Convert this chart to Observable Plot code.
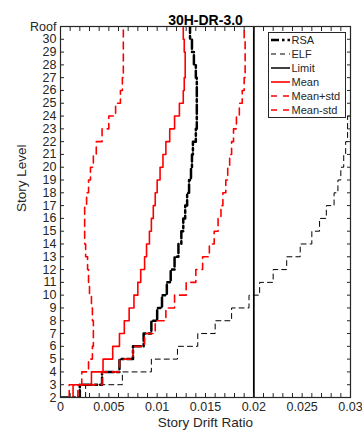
<!DOCTYPE html>
<html><head><meta charset="utf-8">
<script src="https://cdn.jsdelivr.net/npm/d3@7"></script>
<script src="https://cdn.jsdelivr.net/npm/@observablehq/plot@0.6"></script>
<style>body{margin:0;background:#fff}#chart{width:362px;height:434px}</style>
</head><body><div id="chart"></div>
<script>
// Story base level for each story (segment from level L to L+1); 31 = Roof
const levels = [2,3,4,5,6,7,8,9,10,11,12,13,14,15,16,17,18,19,20,21,22,23,24,25,26,27,28,29,30];
const rsa     = [0.0020,0.0043,0.0061,0.0075,0.0086,0.0094,0.0100,0.0105,0.0110,0.0114,0.0118,0.0122,0.0125,0.0127,0.0129,0.0131,0.0133,0.0135,0.0136,0.0137,0.0140,0.0141,0.0141,0.0141,0.0141,0.0140,0.0138,0.0136,0.0134];
const elf     = [0.0026,0.0064,0.0094,0.0121,0.0142,0.0160,0.0177,0.0195,0.0206,0.0220,0.0234,0.0248,0.0260,0.0268,0.0275,0.0283,0.0287,0.0290,0.0293,0.0295,0.0297,0.0297,0.0302,0.0304,0.0306,0.0307,0.0308,0.0309,0.0309];
const mean    = [0.0013,0.0032,0.0044,0.0054,0.0061,0.0066,0.0071,0.0076,0.0080,0.0083,0.0087,0.0089,0.0092,0.0094,0.0096,0.0098,0.0100,0.0103,0.0106,0.0109,0.0113,0.0118,0.0123,0.0127,0.0128,0.0129,0.0129,0.0128,0.0127];
const meanPlus  = [0.0018,0.0043,0.0061,0.0075,0.0087,0.0098,0.0109,0.0118,0.0130,0.0140,0.0147,0.0154,0.0159,0.0163,0.0166,0.0168,0.0171,0.0173,0.0175,0.0177,0.0179,0.0182,0.0185,0.0188,0.0190,0.0191,0.0191,0.0191,0.0190];
const meanMinus = [0.0009,0.0022,0.0029,0.0033,0.0034,0.0034,0.0033,0.0032,0.0030,0.0029,0.0028,0.0026,0.0025,0.0025,0.0025,0.0027,0.0029,0.0031,0.0034,0.0037,0.0043,0.0050,0.0057,0.0062,0.0064,0.0065,0.0065,0.0065,0.0065];
const limit = 0.02;
const title = "30H-DR-3.0";
const xLabel = "Story Drift Ratio";
const yLabel = "Story Level";
const xMajor = [0,0.005,0.01,0.015,0.02,0.025,0.03];
const xMinor = d3.range(0,31).map(i => i/1000);
const yTicks = d3.range(2,32);
const roofLevel = 31;
const seriesNames = ["RSA","ELF","Limit","Mean","Mean+std","Mean-std"];

function steps(vals, start) {
  const pts = start ? [{x:0, y:levels[0]}] : [];
  vals.forEach((v,i) => { pts.push({x:v, y:levels[i]}); pts.push({x:v, y:levels[i]+1}); });
  return pts;
}
const fmtX = d => d === 0 ? "0" : String(+d.toFixed(3));
const fmtY = d => d === roofLevel ? "Roof" : String(d);
const ink = "#262626";
const rsaDash = "9,3,2.5,3";
const stdDash = "7,5";

const plot = Plot.plot({
  width: 362, height: 434,
  marginTop: 26, marginBottom: 37, marginLeft: 60, marginRight: 12,
  style: {fontFamily: "'Liberation Sans', Arial, sans-serif", fontSize: "12px", color: ink, background: "#fff"},
  x: {domain: [0, 0.03], label: null},
  y: {domain: [2, 31], label: null},
  marks: [
    Plot.line(steps(rsa, true), {x:"x", y:"y", stroke:"#000", strokeWidth:2.5, strokeDasharray:rsaDash, clip:true}),
    Plot.line(steps(elf), {x:"x", y:"y", stroke:"#000", strokeWidth:1, strokeDasharray:"5,4", clip:true}),
    Plot.ruleX([limit], {stroke:"#000", strokeWidth:1.75}),
    Plot.line(steps(mean), {x:"x", y:"y", stroke:"#ff0000", strokeWidth:1.6, clip:true}),
    Plot.line(steps(meanPlus), {x:"x", y:"y", stroke:"#ff0000", strokeWidth:1.6, strokeDasharray:stdDash, clip:true}),
    Plot.line(steps(meanMinus), {x:"x", y:"y", stroke:"#ff0000", strokeWidth:1.6, strokeDasharray:stdDash, clip:true}),
    Plot.axisX(xMinor, {anchor:"bottom", tickSize:-4, tickFormat:() => "", label:null, stroke:ink}),
    Plot.axisX(xMinor, {anchor:"top", tickSize:-4, tickFormat:() => "", label:null, stroke:ink}),
    Plot.axisX(xMajor, {anchor:"bottom", tickSize:0, tickPadding:5, tickFormat:fmtX, label:null, fontSize:12.5}),
    Plot.axisY(yTicks, {anchor:"left", tickSize:-4, tickFormat:() => "", label:null, stroke:ink}),
    Plot.axisY(yTicks, {anchor:"right", tickSize:-4, tickFormat:() => "", label:null, stroke:ink}),
    Plot.axisY(yTicks, {anchor:"left", tickSize:0, tickPadding:4, tickFormat:fmtY, label:null, fontSize:12.5}),
    Plot.frame({stroke: ink, strokeWidth: 1.2}),
    Plot.text([title], {frameAnchor:"top", dy:-11, fontWeight:"bold", fontSize:14, fill:"#000"}),
    Plot.text([xLabel], {frameAnchor:"bottom", dy:29, fontSize:13.5, fill:ink}),
    Plot.text([yLabel], {frameAnchor:"left", dx:-39, rotate:-90, fontSize:13.5, fill:ink})
  ]
});
document.getElementById("chart").appendChild(plot);

// Legend box (inside the plot, top right)
const svg = d3.select(plot.tagName.toLowerCase() === "svg" ? plot : plot.querySelector("svg"));
const lg = svg.append("g").attr("font-family","'Liberation Sans', Arial, sans-serif").attr("font-size", 11).attr("text-anchor","start");
lg.append("rect").attr("x",268.5).attr("y",32.5).attr("width",77).attr("height",85).attr("fill","#fff").attr("stroke",ink).attr("stroke-width",1);
const styles = [
  {stroke:"#000", w:2.5, dash:"8,3,2.5,3"},
  {stroke:"#000", w:1, dash:"5,4"},
  {stroke:"#000", w:1.5, dash:null},
  {stroke:"#ff0000", w:1.6, dash:null},
  {stroke:"#ff0000", w:1.6, dash:"6,6"},
  {stroke:"#ff0000", w:1.6, dash:"6,6"}
];
seriesNames.forEach((name, i) => {
  const y = 40 + i * 14;
  const s = styles[i];
  const l = lg.append("line").attr("x1",271).attr("x2",290).attr("y1",y).attr("y2",y)
    .attr("stroke",s.stroke).attr("stroke-width",s.w);
  if (s.dash) l.attr("stroke-dasharray", s.dash);
  lg.append("text").attr("x",291.5).attr("y",y).attr("dy","0.35em").attr("text-anchor","start").attr("fill",ink).text(name);
});
</script>
</body></html>
